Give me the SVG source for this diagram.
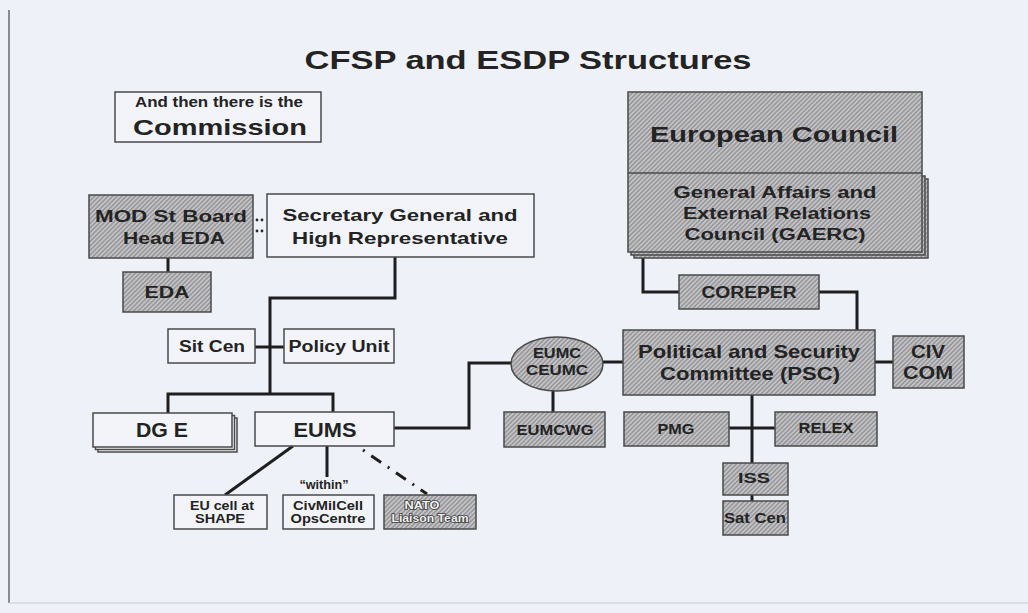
<svg xmlns="http://www.w3.org/2000/svg" width="1028" height="613" viewBox="0 0 1028 613">
<defs>
<pattern id="hatch" width="3.2" height="3.2" patternUnits="userSpaceOnUse" patternTransform="rotate(45)">
<rect width="3.2" height="3.2" fill="#c4c4c6"/>
<line x1="0.8" y1="0" x2="0.8" y2="3.2" stroke="#8e8e92" stroke-width="1.3"/>
</pattern>
<style>
.lt{fill:#f3f4fa;stroke:#4a4a4a;stroke-width:1.5}
.gr{fill:url(#hatch);stroke:#4a4a4a;stroke-width:1.5}
.t{font-family:"Liberation Sans",Arial,sans-serif;font-weight:bold;fill:#232323;text-anchor:middle}
.c{fill:none;stroke:#1e1e1e;stroke-width:3}
.dot{fill:#2a2a2a}
</style>
</defs>
<rect width="1028" height="613" fill="#eff1f9"/>
<line x1="9" y1="10" x2="9" y2="603" stroke="#8a8a90" stroke-width="2"/>
<line x1="9" y1="603" x2="1028" y2="603" stroke="#d4d6de" stroke-width="1.5"/>

<text class="t" x="528" y="69" font-size="25" textLength="447" lengthAdjust="spacingAndGlyphs">CFSP and ESDP Structures</text>

<g id="connectors">
<path class="c" d="M168 258V272"/>
<path class="c" d="M395 257V298H270V394"/>
<path class="c" d="M255 347H284"/>
<path class="c" d="M168 413V394H333V412"/>
<path class="c" d="M394 428H469V363H512"/>
<path class="c" d="M603 362H623"/>
<path class="c" d="M553 390V412"/>
<path class="c" d="M643 252V292H679" stroke-width="2.6"/>
<path class="c" d="M819 292H857V330" stroke-width="2.6"/>
<path class="c" d="M875 362H893" stroke-width="2.2"/>
<path class="c" d="M752 395V463"/>
<path class="c" d="M729 428H775"/>
<path class="c" d="M752 495V501" stroke-width="2"/>
<path class="c" d="M293 446L225 495"/>
<path class="c" d="M327 446V477"/>
<path class="c" d="M363 450L427 494" stroke-dasharray="2 8 12 8"/>
<circle class="dot" cx="257" cy="220" r="1.4"/>
<circle class="dot" cx="262" cy="220" r="1.4"/>
<circle class="dot" cx="257" cy="231" r="1.4"/>
<circle class="dot" cx="262" cy="231" r="1.4"/>
</g>

<g id="commission">
<rect class="lt" x="115" y="92" width="206" height="50"/>
<text class="t" x="219" y="107" font-size="14" textLength="168" lengthAdjust="spacingAndGlyphs">And then there is the</text>
<text class="t" x="220" y="135" font-size="22" textLength="174" lengthAdjust="spacingAndGlyphs">Commission</text>
</g>

<g id="mod">
<rect class="gr" x="89" y="195" width="164" height="63"/>
<text class="t" x="171" y="222" font-size="17" textLength="152" lengthAdjust="spacingAndGlyphs">MOD St Board</text>
<text class="t" x="174" y="244" font-size="17" textLength="102" lengthAdjust="spacingAndGlyphs">Head EDA</text>
</g>

<g id="sghr">
<rect class="lt" x="267" y="194" width="267" height="63"/>
<text class="t" x="400" y="221" font-size="17" textLength="235" lengthAdjust="spacingAndGlyphs">Secretary General and</text>
<text class="t" x="400" y="244" font-size="17" textLength="216" lengthAdjust="spacingAndGlyphs">High Representative</text>
</g>

<g id="eda">
<rect class="gr" x="123" y="272" width="88" height="40"/>
<text class="t" x="167" y="298" font-size="17" textLength="45" lengthAdjust="spacingAndGlyphs">EDA</text>
</g>

<g id="sitcen">
<rect class="lt" x="168" y="329" width="87" height="34"/>
<text class="t" x="212" y="352" font-size="16" textLength="66" lengthAdjust="spacingAndGlyphs">Sit Cen</text>
</g>

<g id="policyunit">
<rect class="lt" x="284" y="329" width="110" height="34"/>
<text class="t" x="339" y="352" font-size="16" textLength="101" lengthAdjust="spacingAndGlyphs">Policy Unit</text>
</g>

<g id="dge">
<rect class="lt" x="98" y="418" width="139" height="34" stroke="#777"/>
<rect class="lt" x="95.5" y="415.5" width="139" height="34" stroke="#777"/>
<rect class="lt" x="93" y="413" width="139" height="34"/>
<text class="t" x="162" y="437" font-size="21" textLength="52" lengthAdjust="spacingAndGlyphs">DG E</text>
</g>

<g id="eums">
<rect class="lt" x="255" y="412" width="139" height="34"/>
<text class="t" x="325" y="437" font-size="21" textLength="63" lengthAdjust="spacingAndGlyphs">EUMS</text>
</g>

<g id="eumc">
<ellipse class="gr" cx="557" cy="364" rx="46" ry="27"/>
<text class="t" x="557" y="358" font-size="15" textLength="48" lengthAdjust="spacingAndGlyphs">EUMC</text>
<text class="t" x="557" y="375" font-size="15" textLength="62" lengthAdjust="spacingAndGlyphs">CEUMC</text>
</g>

<g id="eumcwg">
<rect class="gr" x="504" y="412" width="101" height="35"/>
<text class="t" x="555" y="435" font-size="14" textLength="77" lengthAdjust="spacingAndGlyphs">EUMCWG</text>
</g>

<g id="council">
<rect class="gr" x="634" y="179" width="294" height="79" stroke="#666"/>
<rect class="gr" x="631" y="176" width="294" height="79" stroke="#666"/>
<rect class="gr" x="628" y="92" width="294" height="160"/>
<line x1="628" y1="173" x2="922" y2="173" stroke="#4a4a4a" stroke-width="1.5"/>
<text class="t" x="774" y="142" font-size="22" textLength="248" lengthAdjust="spacingAndGlyphs">European Council</text>
<text class="t" x="775" y="198" font-size="16" textLength="203" lengthAdjust="spacingAndGlyphs">General Affairs and</text>
<text class="t" x="777" y="219" font-size="16" textLength="188" lengthAdjust="spacingAndGlyphs">External Relations</text>
<text class="t" x="775" y="240" font-size="16" textLength="181" lengthAdjust="spacingAndGlyphs">Council (GAERC)</text>
</g>

<g id="coreper">
<rect class="gr" x="679" y="275" width="140" height="34"/>
<text class="t" x="749" y="298" font-size="16" textLength="95" lengthAdjust="spacingAndGlyphs">COREPER</text>
</g>

<g id="psc">
<rect class="gr" x="623" y="330" width="252" height="65"/>
<text class="t" x="749" y="358" font-size="19" textLength="222" lengthAdjust="spacingAndGlyphs">Political and Security</text>
<text class="t" x="750" y="380" font-size="19" textLength="180" lengthAdjust="spacingAndGlyphs">Committee (PSC)</text>
</g>

<g id="civcom">
<rect class="gr" x="893" y="336" width="71" height="52"/>
<text class="t" x="928" y="358" font-size="19" textLength="34" lengthAdjust="spacingAndGlyphs">CIV</text>
<text class="t" x="928" y="379" font-size="19" textLength="50" lengthAdjust="spacingAndGlyphs">COM</text>
</g>

<g id="pmg">
<rect class="gr" x="624" y="412" width="105" height="34"/>
<text class="t" x="676" y="434" font-size="14" textLength="37" lengthAdjust="spacingAndGlyphs">PMG</text>
</g>

<g id="relex">
<rect class="gr" x="775" y="412" width="102" height="34"/>
<text class="t" x="826" y="433" font-size="14" textLength="55" lengthAdjust="spacingAndGlyphs">RELEX</text>
</g>

<g id="iss">
<rect class="gr" x="723" y="463" width="65" height="32"/>
<text class="t" x="754" y="483" font-size="14" textLength="32" lengthAdjust="spacingAndGlyphs">ISS</text>
</g>

<g id="satcen">
<rect class="gr" x="723" y="501" width="65" height="34"/>
<text class="t" x="755" y="523" font-size="15" textLength="62" lengthAdjust="spacingAndGlyphs">Sat Cen</text>
</g>

<g id="eucell">
<rect class="lt" x="174" y="495" width="93" height="34"/>
<text class="t" x="222" y="510" font-size="12" textLength="64" lengthAdjust="spacingAndGlyphs">EU cell at</text>
<text class="t" x="220" y="523" font-size="12" textLength="50" lengthAdjust="spacingAndGlyphs">SHAPE</text>
</g>

<g id="civmilcell">
<text class="t" x="324" y="489" font-size="13" textLength="49" lengthAdjust="spacingAndGlyphs">“within”</text>
<rect class="lt" x="283" y="495" width="91" height="34"/>
<text class="t" x="328" y="510" font-size="13" textLength="70" lengthAdjust="spacingAndGlyphs">CivMilCell</text>
<text class="t" x="328" y="523" font-size="13" textLength="75" lengthAdjust="spacingAndGlyphs">OpsCentre</text>
</g>

<g id="nato">
<rect class="gr" x="384" y="495" width="92" height="34"/>
<text class="t" x="422" y="509" font-size="11" textLength="35" lengthAdjust="spacingAndGlyphs" style="fill:#f2f2f2;stroke:#3a3a3a;stroke-width:1.6;paint-order:stroke">NATO</text>
<text class="t" x="430" y="522" font-size="11" textLength="77" lengthAdjust="spacingAndGlyphs" style="fill:#f2f2f2;stroke:#3a3a3a;stroke-width:1.6;paint-order:stroke">Liaison Team</text>
</g>
</svg>
